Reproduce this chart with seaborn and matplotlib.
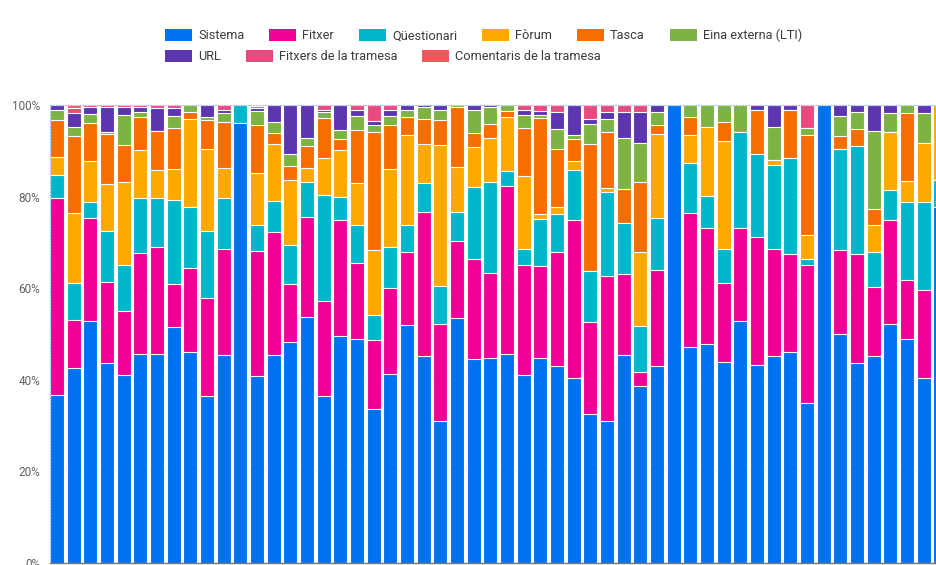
import numpy as np
import pandas as pd
import matplotlib
matplotlib.use("Agg")
import matplotlib.pyplot as plt
from matplotlib.patches import Patch
from matplotlib.ticker import PercentFormatter
import seaborn as sns

# Share of activity (%) per course
courses = [f"C{i:02d}" for i in range(54)]

sistema = [36.7, 42.6, 52.9, 43.7, 41.1, 45.7, 45.7, 51.5, 46.0, 36.4,
           45.5, 96.1, 40.9, 45.4, 48.2, 53.8, 36.4, 49.6, 49.0, 33.6,
           41.2, 52.0, 45.2, 30.9, 53.6, 44.5, 44.8, 45.7, 41.0, 44.8,
           43.1, 40.4, 32.5, 31.1, 45.5, 38.6, 43.0, 100.0, 47.2, 47.9,
           43.9, 52.8, 43.2, 45.2, 46.1, 35.0, 100.0, 49.9, 43.7, 45.2,
           52.1, 48.9, 40.4, 77.7]
fitxer = [42.9, 10.4, 22.4, 17.7, 14.0, 22.0, 23.4, 9.4, 18.5, 21.5,
          23.0, 0.0, 27.2, 26.9, 12.7, 21.8, 20.9, 25.3, 16.6, 15.0,
          18.8, 15.8, 31.5, 21.2, 16.6, 21.8, 18.6, 36.7, 24.1, 20.0,
          24.8, 34.4, 20.1, 31.6, 17.7, 3.0, 21.0, 0.0, 29.3, 25.2,
          17.3, 20.3, 28.0, 23.3, 21.3, 30.0, 0.0, 18.4, 23.8, 15.1,
          22.9, 12.9, 19.2, 0.0]
questionari = [5.2, 8.2, 3.6, 11.0, 10.0, 11.9, 10.7, 18.3, 13.3, 14.6,
               11.3, 3.9, 5.8, 6.8, 8.5, 7.5, 23.0, 5.0, 8.3, 5.5,
               9.1, 6.1, 6.2, 8.4, 6.4, 15.9, 19.7, 3.2, 3.5, 10.4,
               8.2, 11.1, 11.1, 18.4, 11.1, 10.2, 11.3, 0.0, 10.9, 7.1,
               7.3, 21.1, 18.2, 18.4, 21.0, 1.3, 0.0, 22.2, 23.6, 7.6,
               6.4, 17.1, 19.3, 5.9]
forum = [3.8, 15.2, 8.8, 10.4, 18.0, 10.6, 5.9, 6.8, 19.1, 17.9,
         6.4, 0.0, 11.2, 12.4, 14.2, 3.1, 8.1, 10.3, 9.1, 14.2,
         16.9, 19.5, 8.5, 30.8, 9.9, 8.7, 9.8, 11.7, 16.0, 1.0,
         1.6, 1.9, 0.0, 0.8, 0.0, 16.2, 18.3, 0.0, 6.0, 14.9,
         23.7, 0.0, 0.0, 1.2, 0.0, 5.4, 0.0, 0.0, 0.0, 6.0,
         12.8, 4.4, 12.7, 16.4]
tasca = [8.1, 16.8, 8.4, 10.8, 8.2, 7.1, 8.7, 9.0, 1.5, 6.4,
         10.0, 0.0, 10.5, 2.4, 3.1, 4.9, 8.7, 2.4, 11.5, 25.9,
         9.6, 4.0, 5.5, 5.4, 13.1, 3.0, 3.0, 1.4, 10.4, 20.9,
         12.8, 4.7, 27.8, 12.3, 7.4, 15.2, 2.0, 0.0, 3.9, 0.0,
         4.0, 0.0, 9.4, 0.0, 10.5, 21.8, 0.0, 2.7, 3.6, 3.5,
         0.0, 14.9, 0.0, 0.0]
eina = [2.2, 1.9, 2.0, 0.6, 6.6, 1.1, 0.0, 2.5, 1.6, 0.5,
        2.0, 0.0, 3.0, 2.3, 2.5, 1.8, 1.3, 1.9, 3.2, 1.5,
        2.1, 1.5, 2.7, 2.1, 0.4, 4.9, 3.6, 1.3, 2.9, 0.8,
        4.3, 0.9, 4.4, 2.7, 11.0, 8.5, 2.8, 0.0, 2.7, 4.9,
        3.8, 5.8, 0.0, 7.2, 0.0, 1.5, 0.0, 4.3, 3.7, 17.0,
        4.0, 1.8, 6.6, 0.0]
url = [1.1, 3.1, 1.5, 5.4, 1.7, 1.1, 4.9, 1.8, 0.0, 2.7,
       0.8, 0.0, 0.7, 3.8, 10.8, 7.1, 0.5, 5.5, 1.2, 0.7,
       1.2, 1.1, 0.4, 1.2, 0.0, 1.2, 0.5, 0.0, 0.9, 0.8,
       3.7, 6.6, 1.1, 1.6, 5.7, 6.7, 1.6, 0.0, 0.0, 0.0,
       0.0, 0.0, 1.2, 4.7, 1.1, 0.0, 0.0, 2.5, 1.6, 5.6,
       1.8, 0.0, 1.8, 0.0]
fitxers_tramesa = [0.0, 1.1, 0.4, 0.4, 0.4, 0.5, 0.7, 0.7, 0.0, 0.0,
                   1.0, 0.0, 0.4, 0.0, 0.0, 0.0, 1.1, 0.0, 1.1, 3.6,
                   1.1, 0.0, 0.0, 0.0, 0.0, 0.0, 0.0, 0.0, 1.2, 1.3,
                   1.5, 0.0, 3.0, 1.5, 1.6, 1.6, 0.0, 0.0, 0.0, 0.0,
                   0.0, 0.0, 0.0, 0.0, 0.0, 5.0, 0.0, 0.0, 0.0, 0.0,
                   0.0, 0.0, 0.0, 0.0]
comentaris = [0.0, 0.7, 0.0, 0.0, 0.0, 0.0, 0.0, 0.0, 0.0, 0.0,
              0.0, 0.0, 0.3, 0.0, 0.0, 0.0, 0.0, 0.0, 0.0, 0.0,
              0.0, 0.0, 0.0, 0.0, 0.0, 0.0, 0.0, 0.0, 0.0, 0.0,
              0.0, 0.0, 0.0, 0.0, 0.0, 0.0, 0.0, 0.0, 0.0, 0.0,
              0.0, 0.0, 0.0, 0.0, 0.0, 0.0, 0.0, 0.0, 0.0, 0.0,
              0.0, 0.0, 0.0, 0.0]

labels = ["Sistema", "Fitxer", "Qüestionari", "Fòrum", "Tasca",
          "Eina externa (LTI)", "URL", "Fitxers de la tramesa",
          "Comentaris de la tramesa"]
colors = ["#0072f0", "#f10096", "#00b6cb", "#ffa800", "#f66d00",
          "#7cb342", "#5e35b1", "#e94a7e", "#f05a5f"]

df = pd.DataFrame({
    "course": courses,
    labels[0]: sistema, labels[1]: fitxer, labels[2]: questionari,
    labels[3]: forum, labels[4]: tasca, labels[5]: eina,
    labels[6]: url, labels[7]: fitxers_tramesa, labels[8]: comentaris,
})

# normalise each course to 100% and stack
shares = df[labels].div(df[labels].sum(axis=1), axis=0) * 100
cum = shares.cumsum(axis=1)

sns.set_theme(style="white")
plt.rcParams["font.family"] = ["Roboto", "DejaVu Sans"]

fig = plt.figure(figsize=(9.36, 5.65), dpi=100)
ax = fig.add_axes([50 / 936, 2 / 565, 886 / 936, 458 / 565])

# draw the tallest cumulative layer first, the next ones on top
for lab, col in reversed(list(zip(labels, colors))):
    sns.barplot(x=df["course"], y=cum[lab], color=col, saturation=1,
                width=0.84, edgecolor="white", linewidth=0.8, ax=ax)

ax.set_xlim(-0.42, 52.73)
ax.set_ylim(0, 100)
ax.set_yticks([0, 20, 40, 60, 80, 100])
ax.yaxis.set_major_formatter(PercentFormatter(decimals=0))
ax.tick_params(axis="y", length=0, pad=7, labelsize=8.5, labelcolor="#616161")
ax.set_xticks([])
ax.set_xlabel("")
ax.set_ylabel("")
ax.yaxis.grid(True, color="#e6e6e6", linewidth=0.8)
ax.set_axisbelow(True)

ax.spines["right"].set_visible(False)
ax.spines["bottom"].set_color("#757575")
ax.spines["bottom"].set_linewidth(1.0)
for side in ["left", "top"]:
    ax.spines[side].set_color("#a9c3ee")
    ax.spines[side].set_linestyle(":")
    ax.spines[side].set_linewidth(0.8)

# legend in two rows, laid out left to right like the original
handles = [Patch(facecolor=c, edgecolor="none") for c in colors]
fs = 9.2
px = fs * 100 / 72
leg_kw = dict(frameon=False, fontsize=fs, borderpad=0, borderaxespad=0,
              handlelength=27 / px, handleheight=14 / px,
              handletextpad=6 / px, columnspacing=25 / px,
              labelcolor="#3c3c3c", loc="upper left")
fig.legend(handles[:6], labels[:6], ncol=6,
           bbox_to_anchor=(165 / 936, 1 - 29 / 565), **leg_kw)
fig.legend(handles[6:], labels[6:], ncol=3,
           bbox_to_anchor=(165 / 936, 1 - 50 / 565), **leg_kw)

fig.savefig("out.png", dpi=100)
